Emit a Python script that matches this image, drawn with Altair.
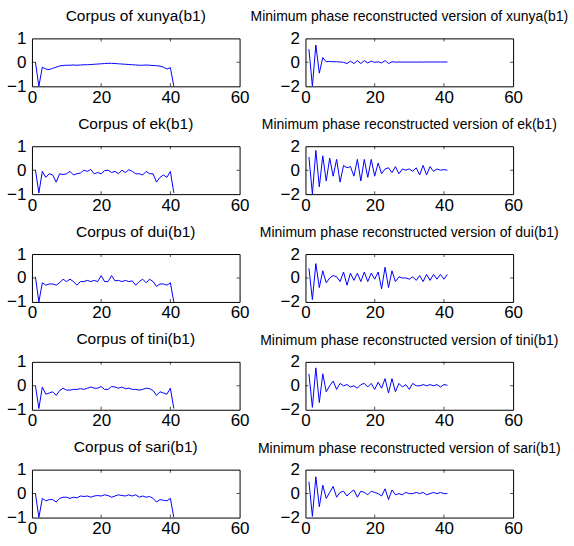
import altair as alt
import pandas as pd

x_vals = list(range(1, 42))
words = ["xunya", "ek", "dui", "tini", "sari"]

corpus_xunya = [0.02, -1.0, -0.2, -0.28, -0.3, -0.25, -0.2, -0.15, -0.13, -0.12,
                -0.12, -0.11, -0.12, -0.11, -0.1, -0.1, -0.09, -0.08, -0.07, -0.06,
                -0.05, -0.04, -0.04, -0.05, -0.06, -0.07, -0.08, -0.09, -0.1, -0.11,
                -0.12, -0.12, -0.11, -0.12, -0.13, -0.14, -0.16, -0.2, -0.28, -0.22, -1.0]
corpus_ek = [0.02, -0.95, -0.05, -0.3, -0.15, -0.2, -0.5, -0.15, -0.18, -0.15,
             -0.05, -0.2, -0.15, -0.12, 0.0, -0.05, 0.03, -0.15, -0.1, -0.15,
             -0.02, 0.0, -0.1, -0.05, -0.15, 0.0, -0.1, 0.02, -0.05, -0.15,
             -0.15, -0.2, -0.05, -0.15, -0.15, -0.5, -0.3, -0.2, -0.3, -0.05, -0.95]
corpus_dui = [0.05, -1.0, -0.2, -0.3, -0.25, -0.25, -0.3, -0.2, -0.05, -0.15,
              -0.05, -0.15, -0.3, -0.15, -0.15, -0.1, -0.15, -0.1, -0.15, 0.1,
              -0.15, -0.15, 0.1, -0.12, -0.1, -0.15, -0.1, -0.15, -0.12, -0.3,
              -0.15, -0.05, -0.2, -0.05, -0.15, -0.35, -0.25, -0.25, -0.3, -0.2, -1.0]
corpus_tini = [0.02, -0.95, -0.05, -0.35, -0.3, -0.25, -0.4, -0.2, -0.1, -0.18,
               -0.18, -0.15, -0.15, -0.12, -0.15, -0.1, -0.05, -0.1, -0.1, -0.03,
               -0.15, -0.15, -0.03, -0.05, -0.1, -0.05, -0.12, -0.1, -0.15, -0.15,
               -0.18, -0.15, -0.1, -0.12, -0.2, -0.4, -0.25, -0.3, -0.35, -0.1, -0.95]
corpus_sari = [0.02, -1.0, -0.2, -0.3, -0.25, -0.25, -0.35, -0.2, -0.15, -0.15,
               -0.2, -0.15, -0.18, -0.1, -0.12, -0.1, -0.15, -0.1, -0.08, -0.1,
               -0.05, -0.08, -0.15, -0.1, -0.05, -0.08, -0.1, -0.05, -0.1, -0.05,
               -0.15, -0.1, -0.15, -0.12, -0.2, -0.35, -0.25, -0.28, -0.3, -0.2, -1.0]

minph_xunya = [1.1, -2.0, 1.45, -0.9, 0.4, 0.05, 0.08, 0.05, 0.05, 0.03,
               0.0, -0.1, 0.1, -0.1, 0.15, -0.1, 0.15, -0.05, 0.1, 0.0,
               0.05, -0.05, 0.15, -0.1, 0.05, 0.02, 0.03, 0.02, 0.03, 0.02,
               0.03, 0.02, 0.03, 0.02, 0.03, 0.03, 0.03, 0.03, 0.03, 0.03, 0.03]
minph_ek = [1.1, -2.0, 1.65, -1.4, 1.2, -0.9, 1.0, -0.5, 0.9, -1.0,
            0.4, 0.2, 0.3, -0.5, 0.9, -0.9, 0.9, -0.6, 0.9, -0.5,
            0.6, -0.3, 0.1, 0.2, -0.2, 0.3, -0.3, 0.1, 0.0, 0.1,
            -0.1, 0.2, -0.4, 0.4, -0.4, 0.3, -0.1, 0.1, 0.0, 0.05, 0.0]
minph_dui = [0.8, -1.8, 1.2, -0.8, 0.6, -0.4, 0.0, 0.2, 0.1, -0.3,
             0.5, -0.6, 0.4, -0.2, 0.4, -0.3, 0.5, -0.3, 0.4, -0.1,
             0.5, -0.9, 0.9, -0.8, 0.6, -0.3, 0.1, 0.0, 0.0, -0.1,
             0.1, -0.2, 0.2, -0.3, 0.3, -0.2, 0.3, -0.1, 0.3, -0.1, 0.3]
minph_tini = [1.0, -1.8, 1.5, -1.4, 1.0, -0.5, 0.0, 0.4, -0.3, 0.2,
              0.0, 0.1, -0.1, 0.0, -0.2, 0.1, 0.2, -0.1, 0.2, -0.3,
              0.3, -0.2, 0.6, -0.6, 0.6, -0.5, 0.2, -0.1, 0.1, -0.3,
              0.2, 0.0, 0.0, 0.1, 0.0, 0.1, 0.0, 0.1, -0.1, 0.1, 0.05]
minph_sari = [1.0, -1.9, 1.4, -1.1, 0.7, -0.4, 0.1, 0.6, -0.3, 0.1,
              0.2, -0.2, 0.1, 0.3, -0.3, 0.2, 0.1, -0.1, 0.2, 0.1,
              0.0, -0.2, 0.4, -0.5, 0.3, -0.1, 0.0, -0.1, 0.1, 0.0,
              0.0, 0.1, 0.0, 0.1, -0.1, 0.0, 0.1, 0.0, 0.1, 0.0, 0.0]

corpus = [corpus_xunya, corpus_ek, corpus_dui, corpus_tini, corpus_sari]
minph = [minph_xunya, minph_ek, minph_dui, minph_tini, minph_sari]

x_ticks = [0, 20, 40, 60]
left_ticks = [-1, 0, 1]
right_ticks = [-2, 0, 2]

FONT = "Liberation Sans"
XDOM = [0, 60]


def axis(values, pad):
    return alt.Axis(values=values, labelPadding=pad, grid=False, domain=False,
                    ticks=False, labelFontSize=17, labelFont=FONT,
                    labelExpr="datum.value < 0 ? '\u2212' + abs(datum.value) : '' + datum.value",
                    labelColor="black", labelFlush=False, labelOverlap=False,
                    labelBound=False, tickCount=len(values))


def panel(title, yvals, domain, ticks, title_size):
    xs = alt.Scale(domain=XDOM, nice=False, zero=False)
    ys = alt.Scale(domain=domain, nice=False, zero=False)
    df = pd.DataFrame({"x": x_vals, "y": yvals})
    line = alt.Chart(df).mark_line(color="#0000ff", strokeWidth=1, clip=True).encode(
        x=alt.X("x:Q", scale=xs, title=None, axis=axis(x_ticks, 3)),
        y=alt.Y("y:Q", scale=ys, title=None, axis=axis(ticks, 6)),
    )
    # inward MATLAB-style tick marks (half of each tick is clipped by the frame)
    inner_x = [t for t in x_ticks if XDOM[0] < t < XDOM[1]]
    inner_y = [t for t in ticks if domain[0] < t < domain[1]]
    xt = pd.DataFrame({"x": inner_x * 2,
                       "y": [domain[0]] * len(inner_x) + [domain[1]] * len(inner_x)})
    yt = pd.DataFrame({"x": [XDOM[0]] * len(inner_y) + [XDOM[1]] * len(inner_y),
                       "y": inner_y * 2})
    xtick = alt.Chart(xt).mark_tick(orient="vertical", size=6, thickness=1,
                                    color="black", clip=True).encode(
        x=alt.X("x:Q", scale=xs, title=None, axis=axis(x_ticks, 3)),
        y=alt.Y("y:Q", scale=ys, title=None, axis=axis(ticks, 6)))
    ytick = alt.Chart(yt).mark_tick(orient="horizontal", size=6, thickness=1,
                                    color="black", clip=True).encode(
        x=alt.X("x:Q", scale=xs, title=None, axis=axis(x_ticks, 3)),
        y=alt.Y("y:Q", scale=ys, title=None, axis=axis(ticks, 6)))
    return alt.layer(
        line, xtick, ytick,
        title=alt.Title(title, fontSize=title_size, font=FONT, fontWeight="normal",
                        color="black", offset=5, frame="group", anchor="middle"),
    ).properties(width=208, height=48)


panels = []
for w, c, m in zip(words, corpus, minph):
    panels.append(panel(f"Corpus of {w}(b1)", c, [-1, 1], left_ticks, 15.5))
    panels.append(panel(f"Minimum phase reconstructed version of {w}(b1)", m,
                        [-2, 2], right_ticks, 14))

chart = alt.concat(*panels, columns=2, spacing={"row": 60, "column": 66},
                   bounds="flush").properties(
    padding={"left": 6, "top": 8, "right": 5, "bottom": 5},
    background="white",
).configure_view(
    stroke="black", strokeWidth=1
).configure_axis(
    labelOverlap=False
)

chart.save("out.html", embed_options={"renderer": "svg", "actions": False})
